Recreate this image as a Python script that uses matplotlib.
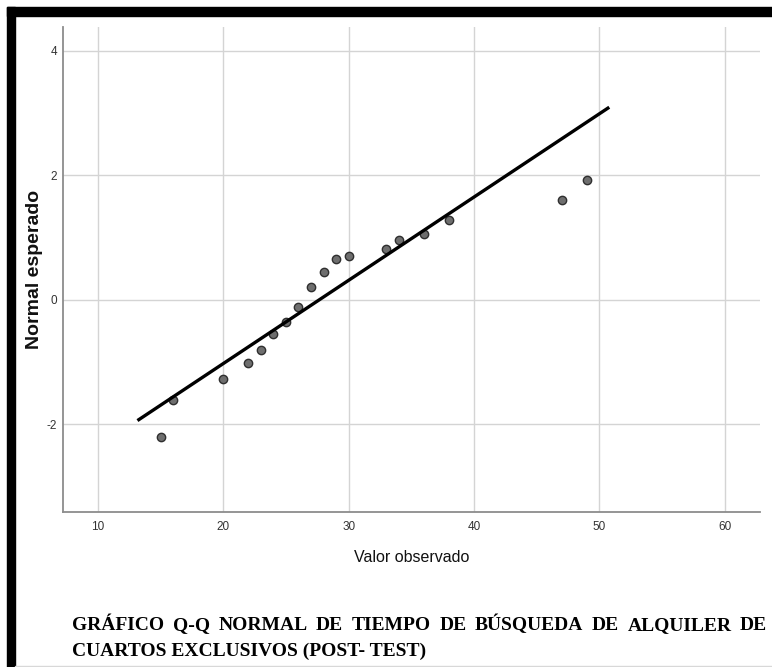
import matplotlib
matplotlib.use("Agg")
import matplotlib.pyplot as plt
from matplotlib.patches import Rectangle
import numpy as np

observed = [15, 16, 20, 22, 23, 24, 25, 26, 27, 28, 29, 30, 33, 34, 36, 38, 47, 49]
expected = [-2.20, -1.61, -1.27, -1.01, -0.81, -0.55, -0.35, -0.11, 0.20, 0.45,
            0.66, 0.70, 0.82, 0.96, 1.05, 1.28, 1.61, 1.93]

# reference line of the normal distribution
line_mean = 27.65
line_sd = 7.48
line_range = [13.16, 50.78]

x_ticks = [10, 20, 30, 40, 50, 60]
y_ticks = [-2, 0, 2, 4]

title_line1 = "GRÁFICO Q-Q NORMAL DE TIEMPO DE BÚSQUEDA DE ALQUILER DE"
title_line2 = "CUARTOS EXCLUSIVOS (POST- TEST)"

plt.rcParams["axes.unicode_minus"] = False

W, H = 772, 667
fig = plt.figure(figsize=(W / 100, H / 100), dpi=100)

sans = ["Liberation Sans", "DejaVu Sans"]

# axes placed in pixel coordinates
left, right, top, bottom = 62.7, 760, 27, 511.7
ax = fig.add_axes([left / W, 1 - bottom / H, (right - left) / W, (bottom - top) / H])

ax.scatter(observed, expected, s=36, color="#6e6e6e", edgecolor="#2f2f2f",
           linewidth=1.0, zorder=3)
lx = np.array(line_range)
ax.plot(lx, (lx - line_mean) / line_sd, color="black", lw=2.4, zorder=4,
        solid_capstyle="butt")

ax.set_xlim(7.2, 62.8)
ax.set_ylim(-3.4, 4.38)
ax.set_xticks(x_ticks)
ax.set_yticks(y_ticks)
ax.grid(True, color="#d4d4d4", lw=1.0)
ax.set_axisbelow(True)
for s in ["top", "right"]:
    ax.spines[s].set_visible(False)
for s in ["left", "bottom"]:
    ax.spines[s].set_color("#8c8c8c")
    ax.spines[s].set_linewidth(1.3)
ax.tick_params(length=0, labelsize=8.5, colors="#333333")
ax.tick_params(axis="x", pad=7)
ax.tick_params(axis="y", pad=4)
for lab in ax.get_xticklabels() + ax.get_yticklabels():
    lab.set_family(sans)

ax.set_xlabel("Valor observado", family=sans, fontsize=11.5, color="#111111")
ax.xaxis.set_label_coords(0.5, -(558 - bottom) / (bottom - top))
ax.xaxis.label.set_va("center")
ax.set_ylabel("Normal esperado", family=sans, fontsize=14, fontweight="bold",
              color="#111111")
ax.yaxis.set_label_coords(-(left - 35) / (right - left), 0.5)
ax.yaxis.label.set_va("center")

# black frame around the picture (top and left edges)
fig.patches.append(Rectangle((7 / W, 1 - 15.5 / H), 1, 9 / H, transform=fig.transFigure,
                             color="black", zorder=10))
fig.patches.append(Rectangle((7 / W, 0), 8 / W, 1 - 7 / H, transform=fig.transFigure,
                             color="black", zorder=10))
fig.patches.append(Rectangle((15 / W, 0), 1, 1.5 / H, transform=fig.transFigure,
                             color="#d8d8d8", zorder=10))

# caption, first line justified between x=72 and x=767
serif = ["Liberation Serif", "DejaVu Serif"]
words = title_line1.split(" ")
texts = [fig.text(72 / W, 1 - 630 / H, w, family=serif, fontweight="bold",
                  fontsize=14, va="baseline", ha="left") for w in words]
fig.text(72 / W, 1 - 656 / H, title_line2, family=serif, fontweight="bold",
         fontsize=14, va="baseline", ha="left")
fig.canvas.draw()
r = fig.canvas.get_renderer()
widths = [t.get_window_extent(r).width for t in texts]
gap = (767 - 72 - sum(widths)) / (len(words) - 1)
x = 72
for t, w in zip(texts, widths):
    t.set_x(x / W)
    x += w + gap

fig.savefig("out.png", dpi=100)
